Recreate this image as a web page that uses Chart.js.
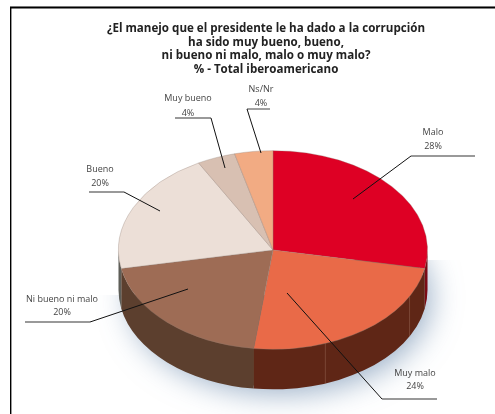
<!DOCTYPE html>
<html><head><meta charset="utf-8">
<style>html,body{margin:0;padding:0;background:#fff}#w{width:495px;height:414px;position:relative}canvas{display:block}</style>
<script src="https://cdn.jsdelivr.net/npm/chart.js@4"></script>
</head><body><div id="w"><canvas id="c" width="495" height="414"></canvas></div>
<script>
const categories = ['Malo','Muy malo','Ni bueno ni malo','Bueno','Muy bueno','Ns/Nr'];
const values = [28,24,20,20,4,4];
const topColors = ['#de0024','#e96a48','#9e6c55','#ecdfd7','#d8c0b2','#f2ab83'];
const sideColors = ['#7a0a14','#5f2616','#5c3f2e','#5e5e58','#5e5e58','#5e5e58'];
const titleLines = ['¿El manejo que el presidente le ha dado a la corrupción','ha sido muy bueno, bueno,','ni bueno ni malo, malo o muy malo?','% - Total iberoamericano'];

// annotation layout: [text x, first line y, second line y, underline x0, x1, y, elbow x, tip x, tip y]
const callouts = [
 [433,132,146,411,475,156,411,353,199],
 [415,373,386,382,437,399,382,287,293],
 [62,299,312,25,90,322,90,188,289],
 [100,169,183,89,124,192,124,160,211],
 [188,98,113,175,211,118,211,225,168],
 [261,89,103,247,270,109,247,261,153]
];
const CX=273, CY=250, SQ=0.643, DEPTH=40;

const tilt = {
 id:'tilt',
 beforeDatasetsDraw(chart){
  const ctx=chart.ctx, arcs=chart.getDatasetMeta(0).data, a0=arcs[0];
  const R=a0.outerRadius, RY=R*SQ;
  // frame
  ctx.save();
  ctx.fillStyle='#777'; ctx.fillRect(10,6,485,1);
  ctx.fillStyle='#000'; ctx.fillRect(10,7,485,1.5); ctx.fillRect(10,7,1.4,407);
  ctx.restore();
  // soft shadow under the body
  ctx.save();
  ctx.beginPath(); ctx.rect(0,CY+45,495,150); ctx.rect(CX+80,CY+10,200,40); ctx.clip();
  ctx.shadowColor='rgba(85,120,160,.6)'; ctx.shadowBlur=30; ctx.shadowOffsetX=7; ctx.shadowOffsetY=7;
  ctx.fillStyle='#6b4a38';
  ctx.beginPath(); ctx.ellipse(CX,CY+DEPTH,R-4,RY-3,0,0,Math.PI*2); ctx.fill();
  ctx.restore();
  // side wall
  arcs.forEach((arc,i)=>{
   const sa=arc.startAngle, ea=arc.endAngle;
   const segs=[[sa,ea],[sa-2*Math.PI,ea-2*Math.PI]];
   segs.forEach(([p,q])=>{
    const from=Math.max(p,0), to=Math.min(q,Math.PI);
    if(to<=from) return;
    ctx.beginPath();
    ctx.ellipse(CX,CY,R,RY,0,from,to);
    ctx.ellipse(CX,CY+DEPTH,R,RY,0,to,from,true);
    ctx.closePath();
    ctx.fillStyle=sideColors[i]; ctx.fill();
   });
  });
  // faint facet seams on the wall
  ctx.save();
  ctx.strokeStyle='rgba(170,130,110,.45)'; ctx.lineWidth=0.8;
  [Math.PI*0.39,Math.PI*0.155].forEach(t=>{
   const x=CX+R*Math.cos(t), y=CY+RY*Math.sin(t);
   ctx.beginPath(); ctx.moveTo(x,y); ctx.lineTo(x,y+DEPTH); ctx.stroke();
  });
  ctx.restore();
  // tilted top surface, drawn by the library's arcs
  ctx.save();
  ctx.translate(CX,CY); ctx.scale(1,SQ); ctx.translate(-a0.x,-a0.y);
 },
 afterDatasetsDraw(chart){
  const ctx=chart.ctx;
  ctx.restore();
  ctx.save();
  ctx.textAlign='center'; ctx.textBaseline='middle';
  ctx.font='9px "Open Sans"'; 
  callouts.forEach((c,i)=>{
   ctx.fillStyle='#444';
   ctx.fillText(categories[i],c[0],c[1]);
   ctx.fillText(values[i]+'%',c[0],c[2]);
   ctx.strokeStyle='#777'; ctx.lineWidth=1.4;
   ctx.beginPath(); ctx.moveTo(c[3],c[5]); ctx.lineTo(c[4],c[5]); ctx.stroke();
   ctx.strokeStyle='#111'; ctx.lineWidth=1;
   ctx.beginPath(); ctx.moveTo(c[6],c[5]); ctx.lineTo(c[7],c[8]); ctx.stroke();
  });
  ctx.restore();
 }
};

new Chart(document.getElementById('c'),{
 type:'pie',
 data:{labels:categories,datasets:[{data:values,backgroundColor:topColors,borderColor:'rgba(140,120,110,.55)',borderWidth:0.7,clip:false}]},
 plugins:[tilt],
 options:{
  responsive:false,animation:false,rotation:0,
  layout:{padding:{left:100,right:63,top:22,bottom:10}},
  plugins:{
   legend:{display:false},tooltip:{enabled:false},
   title:{display:true,text:titleLines,color:'#222',font:{family:'"Open Sans"',size:11.6,weight:'bold',lineHeight:1.17},padding:{top:0,bottom:18}}
  }
 }
});
</script></body></html>
